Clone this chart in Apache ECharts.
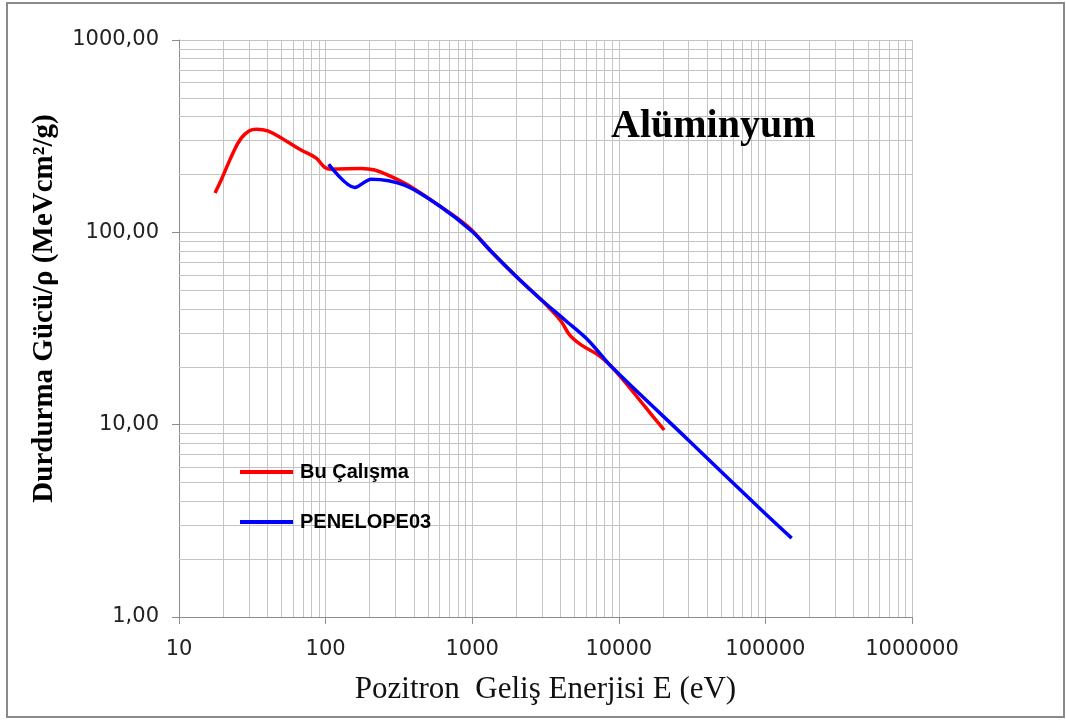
<!DOCTYPE html>
<html>
<head>
<meta charset="utf-8">
<script src="https://cdn.jsdelivr.net/npm/echarts@6/dist/echarts.min.js"></script>
<style>html,body{margin:0;padding:0;background:#fff}#c{width:1066px;height:720px}</style>
</head>
<body>
<div id="c"></div>
<script>
// ---- data (energy eV, stopping power MeV cm2/g) ----
const seriesNames = ['Bu Çalışma', 'PENELOPE03'];
const buCalismaE = [17.6, 19.4, 23.3, 26.5, 30.2, 33.6, 40.3, 52.4, 68, 86.3, 98.4, 109, 175, 216, 281, 365, 584, 935, 1352, 2115, 2970, 3300, 4060, 4630, 5570, 7250, 8930, 11000, 15100, 20400];
const buCalismaS = [160, 187, 258, 308, 337, 344, 337, 302, 268, 243, 218, 213, 215, 211, 195, 176, 139, 107, 79.3, 56.5, 44.5, 41, 34.3, 29.2, 25.9, 23.0, 20.0, 16.7, 12.4, 9.38];
const penelopeE = [105, 158, 205, 345, 600, 1000, 1352, 2115, 2970, 4290, 6180, 8930, 30000, 100000, 151000];
const penelopeS = [226, 171, 189, 176, 137, 101, 79.3, 56.5, 44.5, 35, 27.5, 20, 8.28, 3.44, 2.57];
const xTickLabels = ['10', '100', '1000', '10000', '100000', '1000000'];
const yTickLabels = ['1,00', '10,00', '100,00', '1000,00'];
const titleText = 'Alüminyum';
const xName = 'Pozitron  Geliş Enerjisi E (eV)';
const yName = 'Durdurma Gücü/ρ (MeVcm²/g)';

// minor gridline values (2..9 of each decade)
function minors(lo, hi) {
  const out = [];
  for (let p = lo; p < hi; p++) {
    for (let m = 2; m <= 9; m++) out.push(Number((m * Math.pow(10, p)).toPrecision(6)));
  }
  return out;
}
const xMinor = minors(1, 6);
const yMinor = minors(0, 3);

const zip = (a, b) => a.map((v, i) => [v, b[i]]);

const chart = echarts.init(document.getElementById('c'), null, {renderer: 'canvas'});
const gridColor = '#c4c4c4';
chart.setOption({
  animation: false,
  backgroundColor: '#ffffff',
  title: {
    text: titleText,
    left: 611, top: 107, padding: 0,
    textStyle: {fontFamily: 'Liberation Serif', fontWeight: 'bold', fontSize: 40, color: '#000'}
  },
  legend: {
    data: seriesNames,
    orient: 'vertical',
    left: 240, top: 462, padding: 0,
    icon: 'rect',
    itemWidth: 53, itemHeight: 4,
    itemGap: 30,
    textStyle: {fontFamily: 'Liberation Sans', fontWeight: 'bold', fontSize: 20, color: '#000', lineHeight: 20, padding: [0, 0, 0, 2]}
  },
  grid: {left: 179, right: 154, top: 40, bottom: 103},
  xAxis: {
    type: 'log', logBase: 10, min: 10, max: 1000000,
    name: xName, nameLocation: 'middle', nameGap: 57,
    nameTextStyle: {fontFamily: 'Liberation Serif', fontSize: 31, color: '#111'},
    axisLine: {lineStyle: {color: '#8c8c8c', width: 1}},
    axisTick: {show: true, inside: false, length: 7, lineStyle: {color: '#8c8c8c'}},
    axisLabel: {
      margin: 22, fontFamily: 'DejaVu Sans', fontSize: 21, color: '#222',
      formatter: v => xTickLabels[Math.round(Math.log10(v)) - 1]
    },
    splitLine: {show: true, lineStyle: {color: gridColor, width: 1}}
  },
  yAxis: {
    type: 'log', logBase: 10, min: 1, max: 1000,
    name: yName, nameLocation: 'middle', nameGap: 120,
    nameTextStyle: {fontFamily: 'Liberation Serif', fontWeight: 'bold', fontSize: 29, color: '#000', padding: [0, 0, 0, 40]},
    axisLine: {show: true, lineStyle: {color: '#8c8c8c', width: 1}},
    axisTick: {show: true, inside: false, length: 7, lineStyle: {color: '#8c8c8c'}},
    axisLabel: {
      margin: 20, fontFamily: 'DejaVu Sans', fontSize: 21, color: '#222',
      formatter: v => yTickLabels[Math.round(Math.log10(v))]
    },
    splitLine: {show: true, lineStyle: {color: gridColor, width: 1}}
  },
  series: [
    {
      name: '_grid', type: 'line', data: [], z: 1, silent: true,
      markLine: {
        z: 1, silent: true, symbol: 'none', animation: false,
        label: {show: false},
        lineStyle: {color: gridColor, width: 1, type: 'solid'},
        emphasis: {disabled: true},
        data: xMinor.map(v => ({xAxis: v})).concat(yMinor.map(v => ({yAxis: v})))
      }
    },
    {
      name: seriesNames[0], type: 'line', z: 3,
      data: zip(buCalismaE, buCalismaS),
      smooth: 0.4, showSymbol: false, symbol: 'none',
      lineStyle: {color: '#ff0000', width: 3.5},
      itemStyle: {color: '#ff0000'}
    },
    {
      name: seriesNames[1], type: 'line', z: 4,
      data: zip(penelopeE, penelopeS),
      smooth: 0.3, showSymbol: false, symbol: 'none',
      lineStyle: {color: '#0000ff', width: 3.5},
      itemStyle: {color: '#0000ff'}
    }
  ],
  graphic: [{
    type: 'rect', silent: true, z: -1,
    shape: {x: 7, y: 3, width: 1057, height: 714},
    style: {fill: 'none', stroke: '#8a8a8a', lineWidth: 2}
  }]
});
</script>
</body>
</html>
